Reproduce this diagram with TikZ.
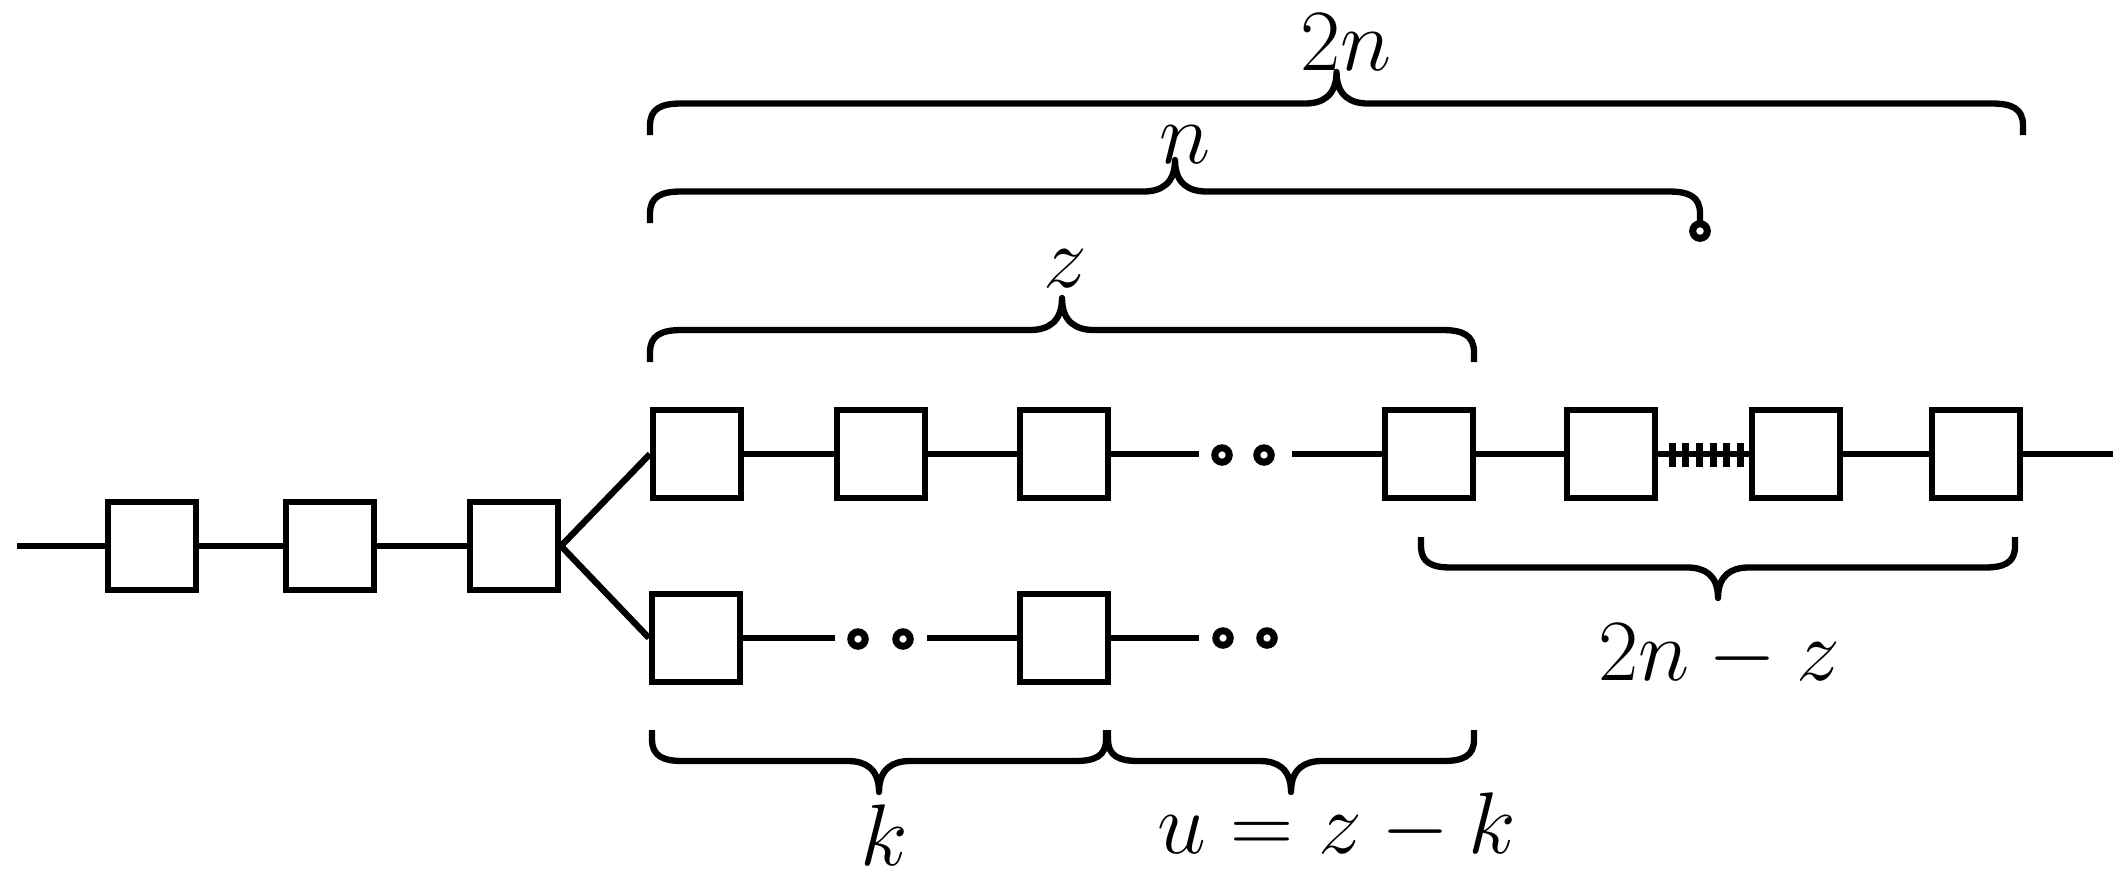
\documentclass[tikz,border=0pt]{standalone}
\usepackage{tikz}
\newcommand\drawbrace[4]{%
  \pgfmathsetmacro\bxa{#1}\pgfmathsetmacro\bxb{#2}%
  \pgfmathsetmacro\by{#3}\pgfmathsetmacro\bh{#4}%
  \pgfmathsetmacro\bxm{(\bxa+\bxb)/2}%
  \pgfmathsetmacro\br{abs(\bh)/2}%
  \pgfmathsetmacro\ya{\by+0.15*(\bh)}%
  \pgfmathsetmacro\yb{\by+0.42*(\bh)}%
  \pgfmathsetmacro\yc{\by+0.5*(\bh)}%
  \pgfmathsetmacro\yd{\by+0.62*(\bh)}%
  \pgfmathsetmacro\ye{\by+(\bh)}%
  \pgfmathsetmacro\xa{\bxa+0.35*\br}%
  \pgfmathsetmacro\xb{\bxa+\br}%
  \pgfmathsetmacro\xc{\bxm-\br}%
  \pgfmathsetmacro\xd{\bxm-0.45*\br}%
  \pgfmathsetmacro\xe{\bxm+0.45*\br}%
  \pgfmathsetmacro\xf{\bxm+\br}%
  \pgfmathsetmacro\xg{\bxb-\br}%
  \pgfmathsetmacro\xh{\bxb-0.35*\br}%
  \draw[bracestyle] (\bxa,\by) -- (\bxa,\ya)
    .. controls (\bxa,\yb) and (\xa,\yc) .. (\xb,\yc)
    -- (\xc,\yc)
    .. controls (\xd,\yc) and (\bxm,\yd) .. (\bxm,\ye)
    .. controls (\bxm,\yd) and (\xe,\yc) .. (\xf,\yc)
    -- (\xg,\yc)
    .. controls (\xh,\yc) and (\bxb,\yb) .. (\bxb,\ya)
    -- (\bxb,\by);
}
\tikzset{
  box/.style={draw, line width=1.7pt, minimum width=0.88cm, minimum height=0.88cm, inner sep=0pt},
  wire/.style={line width=1.8pt},
  ring/.style={circle, draw, line width=2pt, minimum size=0.144cm, inner sep=0pt},
  bracestyle/.style={line width=1.8pt, line join=round},
  lbl/.style={font=\fontsize{23}{28}\selectfont, inner sep=0pt, anchor=base},
  ladtick/.style={line width=2pt}
}
\begin{document}
\begin{tikzpicture}[x=0.01cm, y=-0.01cm]
\useasboundingbox (0,0) rectangle (2128,884);

% left chain
\coordinate (lstart) at (17,546);
\node[box] (b1) at (152,546) {};
\node[box] (b2) at (330,546) {};
\node[box] (b3) at (514,546) {};

% upper row
\node[box] (u1) at (697,454) {};
\node[box] (u2) at (881,454) {};
\node[box] (u3) at (1064,454) {};
\node[box] (u4) at (1429,454) {};
\node[box] (u5) at (1611,454) {};
\node[box] (u6) at (1796,454) {};
\node[box] (u7) at (1976,454) {};
\coordinate (uend1) at (1199,454);
\coordinate (ustart2) at (1292,454);
\coordinate (rend) at (2113,454);
\node[ring] (d1) at (1222,455) {};
\node[ring] (d2) at (1264,455) {};

% lower row
\node[box] (l1) at (696,638) {};
\node[box] (l2) at (1064,638) {};
\coordinate (lend1) at (835,638);
\coordinate (lstart2) at (927,638);
\coordinate (lend2) at (1199,638);
\node[ring] (d3) at (858,639) {};
\node[ring] (d4) at (903,639) {};
\node[ring] (d5) at (1223,638) {};
\node[ring] (d6) at (1267,638) {};

% connectors
\draw[wire] (lstart) -- (b1);
\draw[wire] (b1) -- (b2);
\draw[wire] (b2) -- (b3);
\draw[wire] (b3.east) -- (u1.west);
\draw[wire] (b3.east) -- (l1.west);
\draw[wire] (u1) -- (u2);
\draw[wire] (u2) -- (u3);
\draw[wire] (u3) -- (uend1);
\draw[wire] (ustart2) -- (u4);
\draw[wire] (u4) -- (u5);
\draw[wire] (u5) -- (u6);
\draw[wire] (u6) -- (u7);
\draw[wire] (u7) -- (rend);
\draw[wire] (l1) -- (lend1);
\draw[wire] (lstart2) -- (l2);
\draw[wire] (l2) -- (lend2);

% ladder ticks between u5 and u6
\foreach \i in {0,...,5}{
  \pgfmathsetmacro\tx{1672+13.7*\i}
  \draw[ladtick] (\tx,443) -- (\tx,467);
}

% braces
\drawbrace{650}{2023}{135}{-63}
\drawbrace{650}{1700}{223}{-63}
\node[ring, minimum size=0.146cm] (nring) at (1700,231) {};
\drawbrace{650}{1474}{362}{-64}
\drawbrace{1421}{2015}{537}{61}
\drawbrace{652}{1106}{730}{62}
\drawbrace{1108}{1474}{730}{62}

% labels
\node[lbl] (t2n) at (1346,70) {$2n$};
\node[lbl] (tn) at (1185,163) {$n$};
\node[lbl] (tz) at (1065,287) {$z$};
\node[lbl] (t2nz) at (1719,680) {$2n-z$};
\node[lbl] (tk) at (884,865) {$k$};
\node[lbl] (tu) at (1337,853) {$u=z-k$};
\end{tikzpicture}
\end{document}
